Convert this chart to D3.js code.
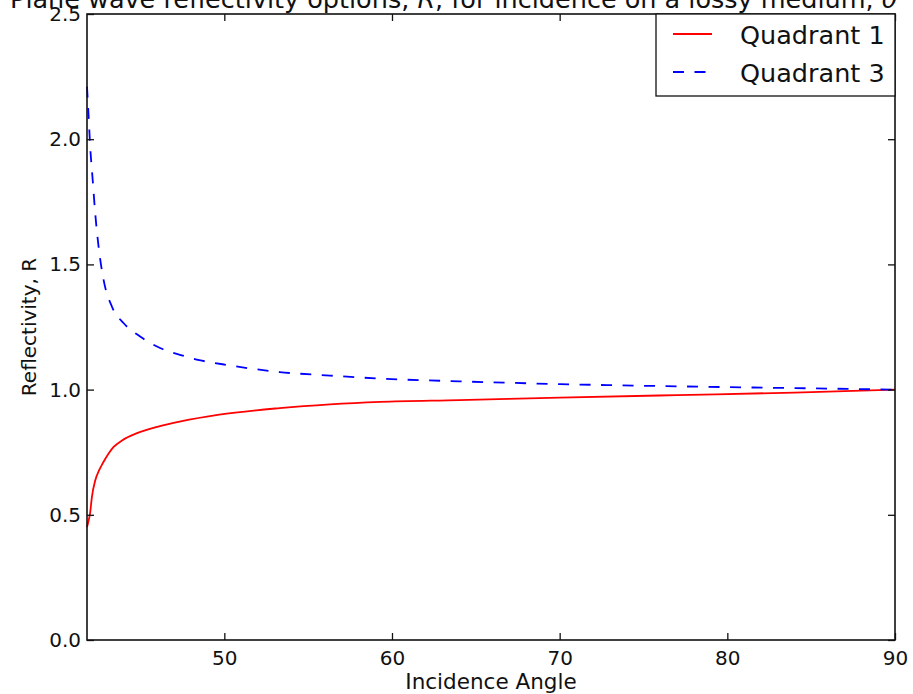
<!DOCTYPE html>
<html>
<head>
<meta charset="utf-8">
<script src="https://cdn.jsdelivr.net/npm/d3@7"></script>
<style>
  body { margin: 0; background: #fff; }
  svg { display: block; font-family: "DejaVu Sans", sans-serif; }
</style>
</head>
<body>
<svg id="chart"></svg>
<script>
// values
const angles1 = [41.81, 41.9, 42.0, 42.1, 42.3, 42.55, 42.75, 43.1, 43.4, 43.9, 44.8, 46.0, 47.4, 49.7, 53.3, 56.3, 59.3, 64.0, 70, 77, 84, 90]
const quadrant1 = [0.45, 0.475, 0.51, 0.57, 0.637, 0.68, 0.706, 0.745, 0.771, 0.797, 0.826, 0.851, 0.873, 0.9, 0.926, 0.941, 0.951, 0.958, 0.968, 0.978, 0.988, 1.0]
const angles3 = [41.81, 41.9, 42.0, 42.15, 42.3, 42.5, 42.8, 43.3, 44.0, 45.0, 46.2, 47.4, 48.5, 50.3, 53.3, 56.3, 59.3, 64.0, 70, 77, 84, 90]
const quadrant3 = [2.21, 2.1, 1.97, 1.837, 1.704, 1.571, 1.438, 1.331, 1.265, 1.211, 1.165, 1.138, 1.118, 1.097, 1.07, 1.056, 1.044, 1.033, 1.022, 1.013, 1.006, 1.0]
const seriesNames = ['Quadrant 1', 'Quadrant 3']
const xTicks = [50, 60, 70, 80, 90]
const yTicks = [0, 0.5, 1.0, 1.5, 2.0, 2.5]
const xDomain = [41.81, 90]
const yDomain = [0, 2.5]

var width = 913
var height = 694
var margin = { top: 14, right: 18, bottom: 54, left: 87 }
var w = width - margin.left - margin.right
var h = height - margin.top - margin.bottom

let svg = d3.select('#chart')
    .attr('width', width)
    .attr('height', height)

/* Scales */
let xScale = d3.scaleLinear()
    .domain(xDomain)
    .range([0, w])

let yScale = d3.scaleLinear()
    .domain(yDomain)
    .range([h, 0])

let g = svg.append('g')
    .attr('transform', 'translate(' + margin.left + ',' + margin.top + ')')

/* Lines */
let series = [
    { name: seriesNames[0], x: angles1, values: quadrant1, color: '#ff0000', dash: null },
    { name: seriesNames[1], x: angles3, values: quadrant3, color: '#0000ff', dash: '11,10.5' }
]

let line = d3.line()
    .x((d) => xScale(d[0]))
    .y((d) => yScale(d[1]))
    .curve(d3.curveMonotoneX)

g.selectAll('path.series')
    .data(series)
    .enter()
        .append('path')
            .attr('class', 'series')
            .attr('fill', 'none')
            .attr('stroke', (d) => d.color)
            .attr('stroke-width', 1.8)
            .attr('stroke-dasharray', (d) => d.dash)
            .attr('d', (d) => line(d.x.map((a, i) => [a, d.values[i]])))

/* Axes, ticks pointing inward on all four sides */
let axisStyle = (sel) => {
    sel.select('.domain').remove()
    sel.selectAll('.tick line').attr('stroke', '#111').attr('stroke-width', 1.3)
    sel.selectAll('.tick text').attr('fill', '#111').attr('font-size', 20)
        .attr('font-family', '"DejaVu Sans", sans-serif')
}

g.append('g')
    .attr('transform', 'translate(0,' + h + ')')
    .call(d3.axisBottom(xScale).tickValues(xTicks).tickSizeInner(-7).tickSizeOuter(0).tickPadding(11).tickFormat(d3.format('d')))
    .call(axisStyle)

g.append('g')
    .call(d3.axisTop(xScale).tickValues(xTicks).tickSizeInner(-7).tickSizeOuter(0).tickFormat(''))
    .call(axisStyle)

g.append('g')
    .call(d3.axisLeft(yScale).tickValues(yTicks).tickSizeInner(-7).tickSizeOuter(0).tickPadding(6).tickFormat(d3.format('.1f')))
    .call(axisStyle)

g.append('g')
    .attr('transform', 'translate(' + w + ',0)')
    .call(d3.axisRight(yScale).tickValues(yTicks).tickSizeInner(-7).tickSizeOuter(0).tickFormat(''))
    .call(axisStyle)

/* Frame */
g.append('rect')
    .attr('width', w)
    .attr('height', h)
    .attr('fill', 'none')
    .attr('stroke', '#111')
    .attr('stroke-width', 1.6)

/* Axis labels */
svg.append('text')
    .attr('x', margin.left + w / 2)
    .attr('y', 689)
    .attr('text-anchor', 'middle')
    .attr('font-size', 21.5)
    .attr('fill', '#111')
    .text('Incidence Angle')

svg.append('text')
    .attr('transform', 'translate(36,' + (margin.top + h / 2) + ') rotate(-90)')
    .attr('text-anchor', 'middle')
    .attr('font-size', 20)
    .attr('fill', '#111')
    .text('Reflectivity, R')

/* Title (runs off the top of the picture) */
let title = svg.append('text')
    .attr('x', 10)
    .attr('y', 8)
    .attr('font-size', 25.5)
    .attr('fill', '#111')
title.append('tspan').text('Plane wave reflectivity options, ')
title.append('tspan').attr('font-style', 'italic').text('R')
title.append('tspan').text(', for incidence on a lossy medium, ')
title.append('tspan').attr('font-style', 'italic').text('θ')

/* Legend */
let legend = svg.append('g')
    .attr('transform', 'translate(656,' + margin.top + ')')

legend.append('rect')
    .attr('width', 239)
    .attr('height', 82)
    .attr('fill', '#fff')
    .attr('stroke', '#111')
    .attr('stroke-width', 1.3)

let items = legend.selectAll('g.item')
    .data(series)
    .enter()
        .append('g')
            .attr('class', 'item')
            .attr('transform', (d, i) => 'translate(0,' + (20 + i * 38) + ')')

items.append('line')
    .attr('x1', 17)
    .attr('x2', 56)
    .attr('stroke', (d) => d.color)
    .attr('stroke-width', 1.8)
    .attr('stroke-dasharray', (d) => d.dash)

items.append('text')
    .attr('x', 84)
    .attr('y', 10)
    .attr('font-size', 25.5)
    .attr('fill', '#111')
    .text((d) => d.name)
</script>
</body>
</html>
